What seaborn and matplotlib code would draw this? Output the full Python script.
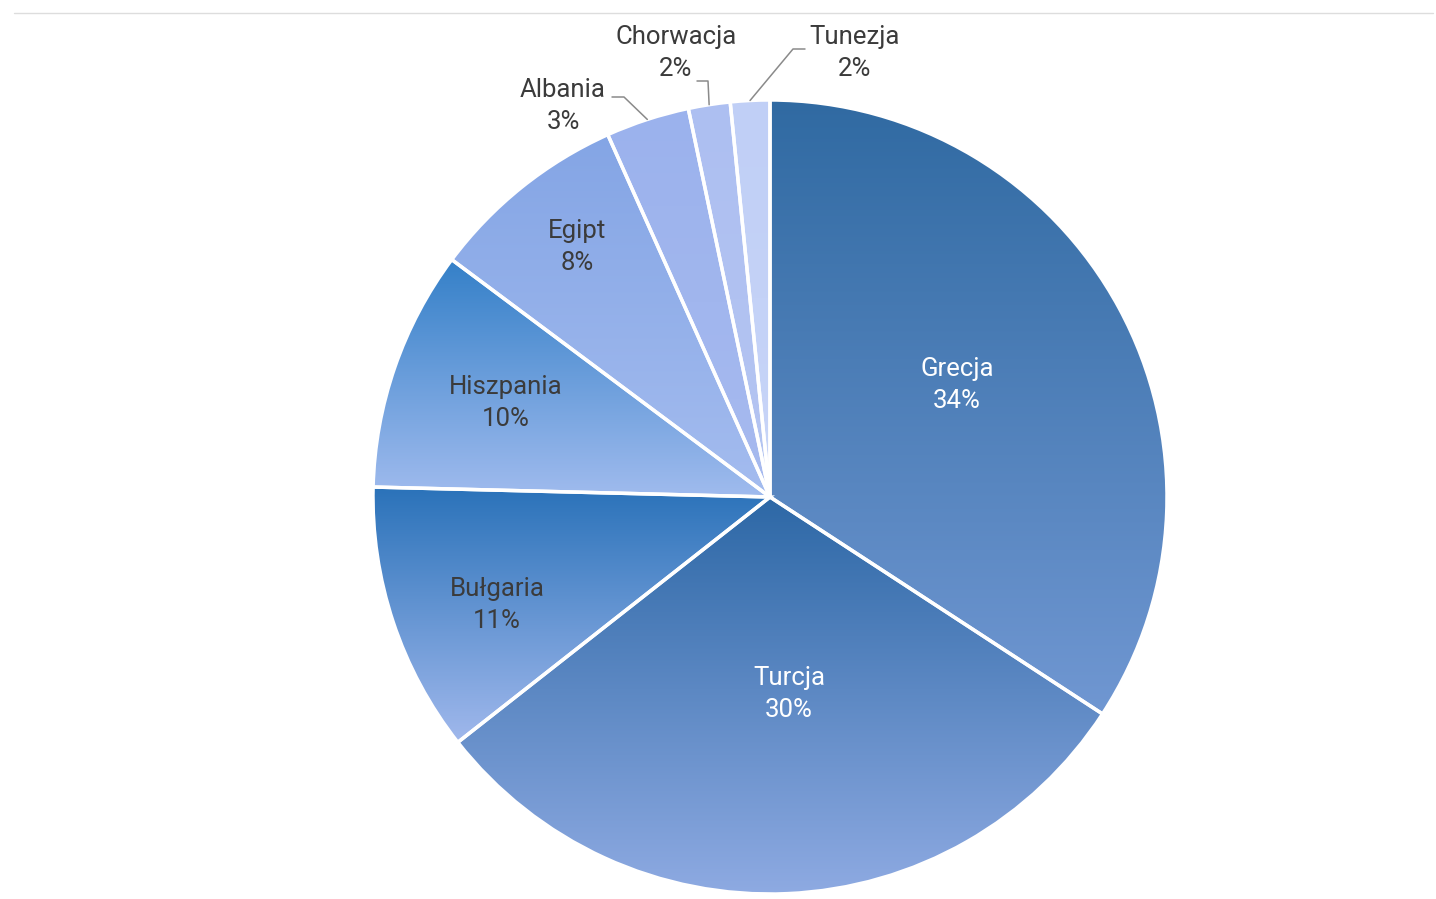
import numpy as np
import matplotlib.pyplot as plt
from matplotlib.colors import to_rgb
import seaborn as sns

# data (clockwise from 12 o'clock)
countries = ['Grecja', 'Turcja', 'Bułgaria', 'Hiszpania', 'Egipt', 'Albania', 'Chorwacja', 'Tunezja']
shares = [34.2, 30.2, 11.0, 9.8, 8.1, 3.4, 1.7, 1.6]

# each slice is shaded darker at the top, lighter at the bottom
top_colors = ['#306aa2', '#2d68a6', '#2a72b9', '#3480c8', '#84a5e5', '#9bb2ed', '#adbff1', '#c0cff6']
bottom_colors = ['#7097d2', '#8eaae2', '#a0b8ec', '#a0bbee', '#a4bcef', '#a7baef', '#b5c5f2', '#c8d5f8']
text_colors = ['white', 'white', '#3b3b3b', '#3b3b3b', '#3b3b3b', '#3b3b3b', '#3b3b3b', '#3b3b3b']

sns.set_style('white')
plt.rcParams['font.family'] = ['Roboto', 'DejaVu Sans']

W, H = 1436, 899
fig = plt.figure(figsize=(W / 100, H / 100), dpi=100)
cx, cy, R = 770, 497, 397
ax = fig.add_axes([(cx - R) / W, (H - cy - R) / H, 2 * R / W, 2 * R / H])

wedges, _ = ax.pie(shares, colors=top_colors, startangle=90, counterclock=False,
                   wedgeprops=dict(edgecolor='white', linewidth=2.5))

# gradient fill clipped to every wedge, then wedge outline on top
for w, c0, c1 in zip(wedges, top_colors, bottom_colors):
    ext = w.get_path().get_extents()
    t = np.linspace(0, 1, 256)[:, None]
    grad = (1 - t) * np.array(to_rgb(c0)) + t * np.array(to_rgb(c1))
    im = ax.imshow(grad[:, None, :], extent=[ext.x0, ext.x1, ext.y0, ext.y1], origin='upper',
                   aspect='auto', interpolation='bilinear', zorder=1.5)
    im.set_clip_path(w)
    w.set_facecolor('none')
    w.set_zorder(3)

ax.set_xlim(-1, 1)
ax.set_ylim(-1, 1)
ax.set_aspect('equal')
ax.axis('off')

fs = 18.5
lsp = 1.38


def pxy(x, y):
    return ((x - cx) / R, (cy - y) / R)


def label(i, txt_px):
    ax.text(*pxy(*txt_px), f'{countries[i]}\n{round(shares[i])}%', ha='center', va='center',
            color=text_colors[i], fontsize=fs, linespacing=lsp, zorder=4)


# labels inside the big slices
label(0, (957, 385))
label(1, (789, 694))
label(2, (497, 605))
label(3, (506, 403))
label(4, (577, 247))


# outside labels with leader lines running to the middle of the slice's rim
def outside(i, txt_px, start_px, elbow_px):
    label(i, txt_px)
    w = wedges[i]
    mid = np.deg2rad((w.theta1 + w.theta2) / 2)
    p0, p1 = pxy(*start_px), pxy(*elbow_px)
    ax.plot([p0[0], p1[0], np.cos(mid)], [p0[1], p1[1], np.sin(mid)], color='#8a8a8a', lw=1.1,
            clip_on=False, zorder=4)


outside(5, (563, 106), (612, 97), (624, 97))
outside(6, (676, 53), (697, 81), (708, 81))
outside(7, (855, 53), (805, 49), (793, 49))

# thin frame line at the top of the scan
fig.add_artist(plt.Line2D([0.01, 0.998], [1 - 13 / H, 1 - 13 / H], color='#dddddd', lw=1))

fig.savefig('out.png', dpi=100)
